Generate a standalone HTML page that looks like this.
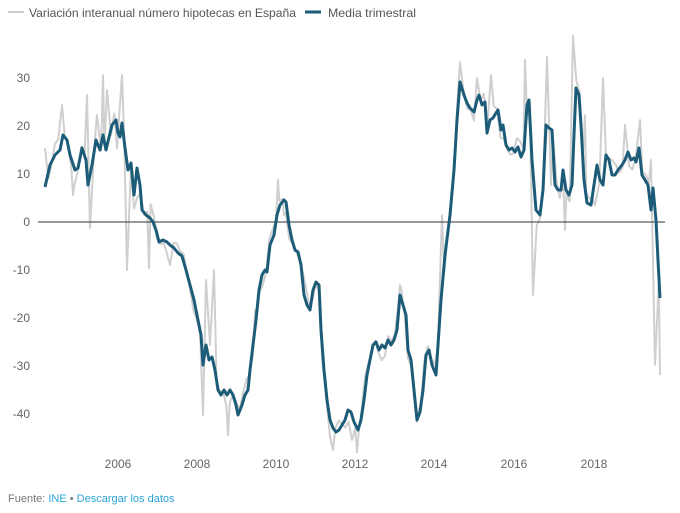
<!DOCTYPE html>
<html><head><meta charset="utf-8"><style>
body{margin:0;background:#fff;font-family:"Liberation Sans",sans-serif;}
svg text{font-family:"Liberation Sans",sans-serif;}
</style></head><body>
<svg id="s" width="680" height="508" xmlns="http://www.w3.org/2000/svg">
<line x1="8" y1="12" x2="24" y2="12" stroke="#ccc" stroke-width="2"/>
<text x="29" y="17" font-size="12" fill="#555" textLength="267" lengthAdjust="spacingAndGlyphs">Variación interanual número hipotecas en España</text>
<line x1="305" y1="12" x2="321" y2="12" stroke="#1d5c78" stroke-width="3"/>
<text x="328" y="17" font-size="12" fill="#555" textLength="88" lengthAdjust="spacingAndGlyphs">Media trimestral</text>
<g font-size="12" fill="#666" text-anchor="end">
<text x="30" y="82">30</text><text x="30" y="130">20</text><text x="30" y="178">10</text>
<text x="30" y="226">0</text><text x="30" y="274">-10</text><text x="30" y="322">-20</text>
<text x="30" y="370">-30</text><text x="30" y="418">-40</text></g>
<g font-size="12" fill="#666" text-anchor="middle">
<text x="118" y="468">2006</text><text x="197" y="468">2008</text><text x="276" y="468">2010</text>
<text x="355" y="468">2012</text><text x="434" y="468">2014</text><text x="514" y="468">2016</text>
<text x="594" y="468">2018</text></g>
<polyline id="g" fill="none" stroke="#cfcfcf" stroke-width="2" stroke-linejoin="round"/>
<line x1="38" y1="222" x2="665" y2="222" stroke="#333" stroke-width="1"/>
<polyline id="d" fill="none" stroke="#1d5c78" stroke-width="3" stroke-linejoin="round"/>
<text x="8" y="502" font-size="11" fill="#777">Fuente: <tspan fill="#29a3d8">INE</tspan> • <tspan fill="#29a3d8">Descargar los datos</tspan></text>
</svg>
<script>
var d=[[45,187],[50,165],[55,155],[60,150],[63,135],[67,140],[70,155],[75,170],[78,168],[82,148],[86,160],[88,185],[92,165],[96,140],[100,150],[103,135],[106,150],[110,133],[112,125],[116,120],[118,133],[120,137],[122,123],[125,148],[128,170],[131,163],[134,195],[137,168],[140,185],[142,210],[146,215],[150,218],[153,222],[156,230],[159,242],[163,240],[167,242],[170,245],[174,248],[178,253],[182,256],[186,270],[190,285],[194,300],[198,320],[201,335],[203,365],[206,345],[209,360],[212,357],[215,370],[218,390],[221,395],[224,390],[227,395],[230,390],[233,395],[236,405],[238,415],[242,405],[245,395],[248,390],[250,370],[253,345],[256,320],[259,290],[262,275],[265,270],[267,272],[270,245],[274,235],[277,215],[280,205],[284,200],[286,202],[289,225],[292,240],[295,250],[298,252],[301,265],[304,295],[307,305],[310,310],[313,290],[316,282],[319,285],[321,330],[324,370],[327,400],[330,420],[333,428],[336,432],[339,430],[342,425],[345,420],[348,410],[351,412],[354,422],[358,430],[361,420],[364,400],[367,375],[370,360],[373,345],[376,342],[379,350],[382,345],[385,348],[388,340],[391,345],[394,340],[397,330],[400,295],[403,305],[406,315],[408,350],[411,360],[414,390],[417,420],[420,412],[423,390],[426,355],[429,350],[432,365],[436,375],[438,345],[441,300],[445,255],[450,215],[454,170],[457,120],[460,82],[464,95],[467,103],[470,108],[474,112],[477,100],[479,95],[482,105],[485,102],[487,133],[490,120],[493,118],[496,113],[498,110],[501,130],[503,125],[506,145],[509,150],[512,148],[515,152],[518,147],[521,157],[524,150],[527,105],[529,100],[532,160],[536,210],[540,215],[543,190],[546,125],[549,128],[552,130],[555,185],[558,190],[561,190],[563,170],[566,190],[569,195],[572,185],[574,135],[576,88],[579,95],[581,125],[584,180],[587,203],[591,205],[594,185],[597,165],[600,180],[603,185],[606,155],[609,160],[612,175],[615,175],[618,170],[622,165],[625,160],[628,152],[631,160],[634,158],[636,162],[639,148],[642,175],[645,180],[648,185],[651,210],[653,188],[656,220],[658,260],[660,298]];
var sp=[[45,148],[62,105],[73,195],[87,95],[90,228],[97,115],[103,75],[107,90],[117,148],[122,75],[127,270],[137,198],[149,268],[170,265],[186,268],[203,415],[206,280],[214,270],[228,435],[255,310],[278,180],[284,215],[330,437],[333,450],[343,425],[352,440],[357,452],[400,285],[417,422],[442,215],[460,62],[477,78],[491,75],[525,60],[533,295],[547,57],[551,185],[565,230],[573,36],[585,115],[595,205],[603,78],[625,125],[640,120],[651,160],[655,365],[660,375]];
function interp(x){for(var i=1;i<d.length;i++){if(d[i][0]>=x){var a=d[i-1],b=d[i];return a[1]+(b[1]-a[1])*(x-a[0])/(b[0]-a[0]);}}return d[d.length-1][1];}
var g=[];for(var x=45;x<=660;x+=3.3){var n=Math.sin(x*1.7)*9+Math.sin(x*0.53)*6;g.push([x,interp(x)+n]);}
sp.forEach(function(p){g.push(p)});g.sort(function(a,b){return a[0]-b[0]});
var f=[];g.forEach(function(p){if(!f.length||p[0]-f[f.length-1][0]>1.2)f.push(p);else if(sp.some(function(s){return s===p}))f[f.length-1]=p;});
document.getElementById('g').setAttribute('points',f.map(function(p){return p[0].toFixed(1)+','+p[1].toFixed(1)}).join(' '));
document.getElementById('d').setAttribute('points',d.map(function(p){return p.join(',')}).join(' '));
</script>
</body></html>
